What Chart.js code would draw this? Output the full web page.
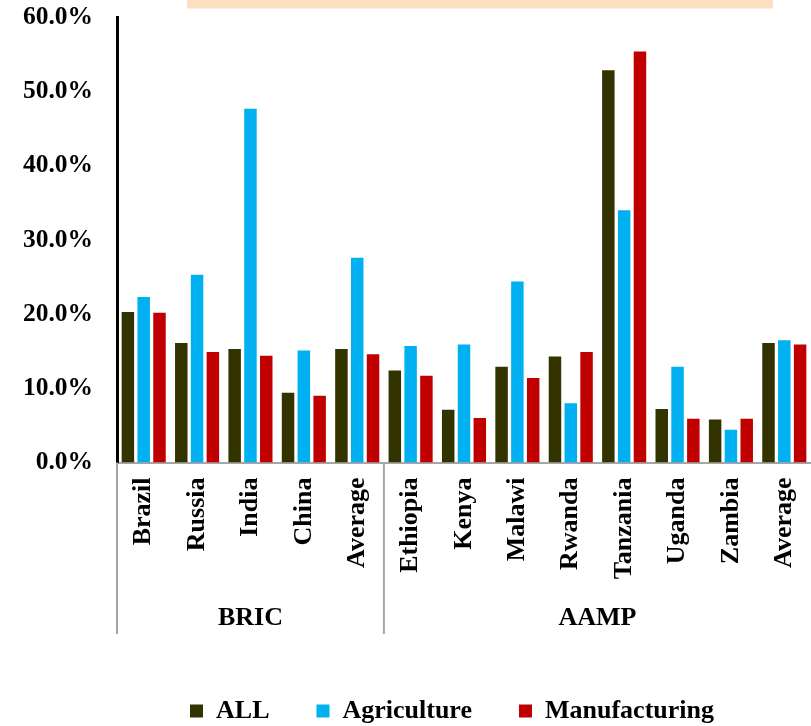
<!DOCTYPE html>
<html>
<head>
<meta charset="utf-8">
<script src="https://cdn.jsdelivr.net/npm/chart.js@4/dist/chart.umd.min.js"></script>
<style>
html,body{margin:0;padding:0;background:#fff;}
#wrap{position:relative;width:811px;height:726px;}
</style>
</head>
<body>
<div id="wrap"><canvas id="c"></canvas></div>
<script>
const categories = ['Brazil','Russia','India','China','Average','Ethiopia','Kenya','Malawi','Rwanda','Tanzania','Uganda','Zambia','Average'];
const groups = ['BRIC','AAMP'];
const groupSizes = [5, 8];
const seriesNames = ['ALL','Agriculture','Manufacturing'];
const allValues = [20.3, 16.1, 15.3, 9.4, 15.3, 12.4, 7.1, 12.9, 14.3, 52.9, 7.2, 5.8, 16.1];
const agriValues = [22.3, 25.3, 47.7, 15.1, 27.6, 15.7, 15.9, 24.4, 8.0, 34.0, 12.9, 4.4, 16.5];
const manuValues = [20.2, 14.9, 14.4, 9.0, 14.6, 11.7, 6.0, 11.4, 14.9, 55.4, 5.9, 5.9, 15.9];
const yTicks = [0, 10, 20, 30, 40, 50, 60];

const FONT = "'Liberation Serif', 'Times New Roman', serif";

const groupPlugin = {
  id: 'groupPlugin',
  afterLayout(chart) {
    const lg = chart.legend;
    if (lg) { lg.left = 93; lg.width = lg.right - lg.left; }
  },
  beforeDraw(chart) {
    const ctx = chart.ctx;
    ctx.save();
    ctx.fillStyle = '#FFDFC4';
    ctx.fillRect(187, 0, 586, 8.5);
    ctx.restore();
  },
  afterDraw(chart) {
    const ctx = chart.ctx;
    const x = chart.scales.x;
    const area = chart.chartArea;
    const step = (area.right - area.left) / categories.length;
    ctx.save();
    ctx.strokeStyle = '#A6A6A6';
    ctx.lineWidth = 2;
    let idx = 0;
    const bounds = [area.left];
    groupSizes.forEach(s => { idx += s; bounds.push(x.getPixelForValue(idx - 1) + step / 2); });
    bounds.forEach(b => {
      if (b > chart.width - 2) return;
      ctx.beginPath();
      ctx.moveTo(b, area.bottom);
      ctx.lineTo(b, 634);
      ctx.stroke();
    });
    ctx.fillStyle = '#000';
    ctx.font = 'bold 26px ' + FONT;
    ctx.textAlign = 'center';
    ctx.textBaseline = 'middle';
    groups.forEach((g, i) => {
      ctx.fillText(g, (bounds[i] + bounds[i + 1]) / 2, 618);
    });
    ctx.restore();
  }
};

new Chart(document.getElementById('c'), {
  type: 'bar',
  data: {
    labels: categories,
    datasets: [
      { label: seriesNames[0], data: allValues, backgroundColor: '#333300' },
      { label: seriesNames[1], data: agriValues, backgroundColor: '#00B0F0' },
      { label: seriesNames[2], data: manuValues, backgroundColor: '#C00000' }
    ]
  },
  options: {
    responsive: true,
    maintainAspectRatio: false,
    animation: false,
    categoryPercentage: 0.888,
    barPercentage: 0.79,
    layout: { padding: { left: 0, right: 0, top: 17.5, bottom: 0 } },
    plugins: {
      tooltip: { enabled: false },
      legend: {
        position: 'bottom',
        maxHeight: 75,
        labels: {
          boxWidth: 13,
          boxHeight: 13,
          padding: 47,
          color: '#000',
          font: { family: FONT, size: 26, weight: 'bold' }
        }
      }
    },
    scales: {
      x: {
        grid: { display: false, drawTicks: false },
        border: { color: '#A6A6A6', width: 2 },
        ticks: {
          color: '#000',
          autoSkip: false,
          minRotation: 90,
          maxRotation: 90,
          padding: 15,
          font: { family: FONT, size: 26, weight: 'bold' }
        },
        afterFit(s) { s.height = 188.5; s.paddingLeft = 0; s.paddingRight = 0; }
      },
      y: {
        min: 0,
        max: 60,
        grid: { display: false, drawTicks: false },
        border: { color: '#000', width: 3 },
        afterBuildTicks(s) { s.ticks = yTicks.map(v => ({ value: v })); },
        ticks: {
          color: '#000',
          padding: 24,
          font: { family: FONT, size: 25.5, weight: 'bold' },
          callback: v => v.toFixed(1) + '%'
        },
        afterFit(s) { s.width = 117; s.paddingTop = 0; s.paddingBottom = 0; }
      }
    }
  },
  plugins: [groupPlugin]
});
</script>
</body>
</html>
